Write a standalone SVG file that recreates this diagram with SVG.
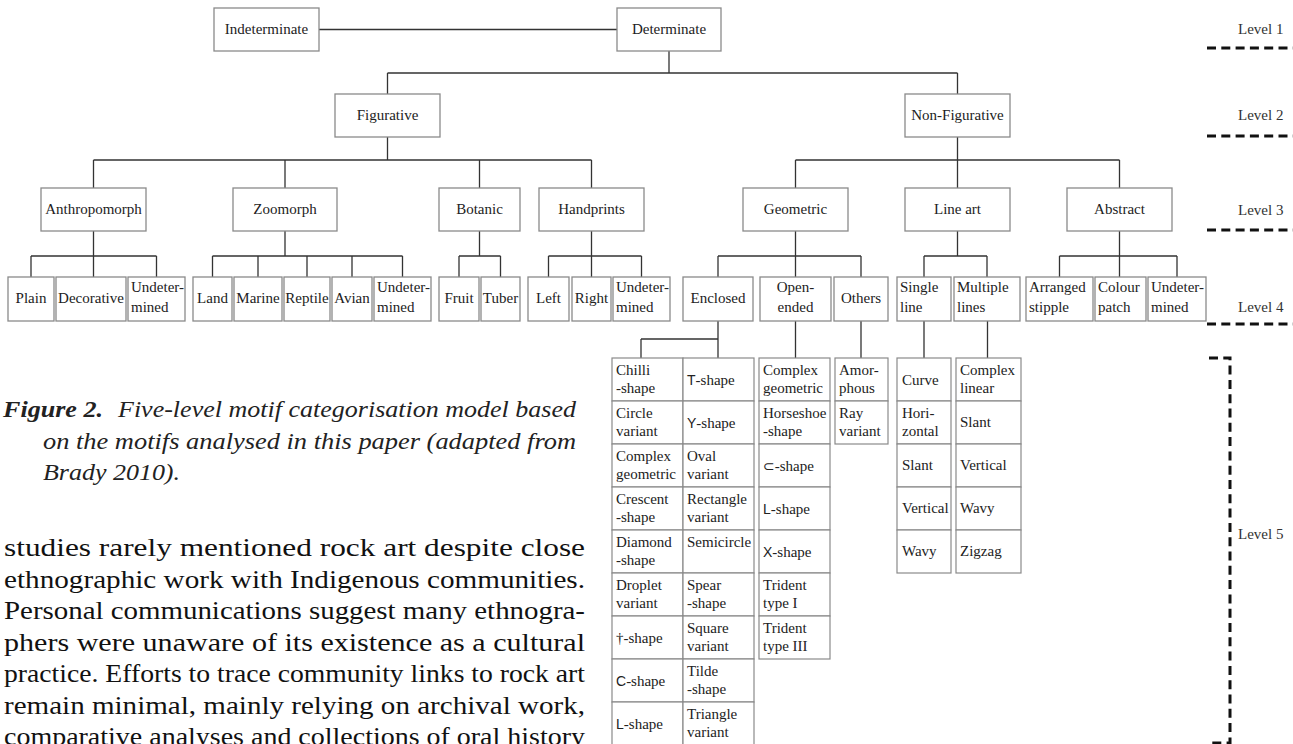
<svg xmlns="http://www.w3.org/2000/svg" width="1293" height="744" viewBox="0 0 1293 744">
<style>
.box{fill:#fff;stroke:#8a8a8a;stroke-width:1.3}
.cell{fill:#fff;stroke:#8a8a8a;stroke-width:1.2}
.t{font-family:"Liberation Serif",serif;font-size:15px;fill:#222}
.c{text-anchor:middle}
.s{font-family:"Liberation Sans","DejaVu Sans",sans-serif;font-size:14px}
.conn{stroke:#333;stroke-width:1.3;fill:none}
.dash{stroke:#111;stroke-width:3;stroke-dasharray:9 5.3;fill:none}
.lvl{font-family:"Liberation Serif",serif;font-size:15px;fill:#333}
.cap{font-family:"Liberation Serif",serif;font-size:23px;font-style:italic;fill:#222}
.body{font-family:"Liberation Serif",serif;font-size:25px;fill:#111}
</style>

<g id="connectors" class="conn">
<path d="M319,29.5 H617"/>
<path d="M669,51 V73 M387.5,73 H957.5 M387.5,73 V94 M957.5,73 V94"/>
<path d="M387.5,137 V160 M93.5,160 H591.5 M93.5,160 V188 M285,160 V188 M479.5,160 V188 M591.5,160 V188"/>
<path d="M957.5,137 V160 M795.5,160 H1119.5 M795.5,160 V188 M957.5,160 V188 M1119.5,160 V188"/>
<path d="M93.5,231 V277 M31,256 H156.5 M31,256 V277 M156.5,256 V277"/>
<path d="M285,231 V256 M212.5,256 H402.5 M212.5,256 V277 M258,256 V277 M307,256 V277 M352,256 V277 M402.5,256 V277"/>
<path d="M479.5,231 V256 M459,256 H500.5 M459,256 V277 M500.5,256 V277"/>
<path d="M591.5,231 V277 M548.5,256 H641.5 M548.5,256 V277 M641.5,256 V277"/>
<path d="M795.5,231 V277 M718,256 H861 M718,256 V277 M861,256 V277"/>
<path d="M957.5,231 V256 M924,256 H987 M924,256 V277 M987,256 V277"/>
<path d="M1119.5,231 V277 M1059.5,256 H1177 M1059.5,256 V277 M1177,256 V277"/>
<path d="M718,321 V358 M641,339 H718 M641,339 V358"/>
<path d="M795.5,321 V358 M861,321 V358 M924,321 V358 M987.5,321 V358"/>
</g>

<!-- Level 1 -->
<g id="n-indeterminate"><rect class="box" x="214" y="8" width="105" height="43"/><text class="t c" x="266.5" y="34">Indeterminate</text></g>
<g id="n-determinate"><rect class="box" x="617" y="8" width="104" height="43"/><text class="t c" x="669" y="34">Determinate</text></g>

<!-- Level 2 -->
<g id="n-figurative"><rect class="box" x="335" y="94" width="105" height="43"/><text class="t c" x="387.5" y="120">Figurative</text></g>
<g id="n-nonfigurative"><rect class="box" x="905" y="94" width="105" height="43"/><text class="t c" x="957.5" y="120">Non-Figurative</text></g>

<!-- Level 3 -->
<g id="n-anthropomorph"><rect class="box" x="41" y="188" width="105" height="43"/><text class="t c" x="93.5" y="214">Anthropomorph</text></g>
<g id="n-zoomorph"><rect class="box" x="233" y="188" width="104" height="43"/><text class="t c" x="285" y="214">Zoomorph</text></g>
<g id="n-botanic"><rect class="box" x="439" y="188" width="81" height="43"/><text class="t c" x="479.5" y="214">Botanic</text></g>
<g id="n-handprints"><rect class="box" x="539" y="188" width="105" height="43"/><text class="t c" x="591.5" y="214">Handprints</text></g>
<g id="n-geometric"><rect class="box" x="743" y="188" width="105" height="43"/><text class="t c" x="795.5" y="214">Geometric</text></g>
<g id="n-lineart"><rect class="box" x="905" y="188" width="105" height="43"/><text class="t c" x="957.5" y="214">Line art</text></g>
<g id="n-abstract"><rect class="box" x="1067" y="188" width="105" height="43"/><text class="t c" x="1119.5" y="214">Abstract</text></g>

<!-- Level 4 -->
<g id="n-plain"><rect class="box" x="8" y="277" width="46" height="44"/><text class="t c" x="31" y="303">Plain</text></g>
<g id="n-decorative"><rect class="box" x="56" y="277" width="70" height="44"/><text class="t c" x="91" y="303">Decorative</text></g>
<g id="n-anthro-undet"><rect class="box" x="128" y="277" width="57" height="44"/><text class="t" x="131" y="292">Undeter-</text><text class="t" x="131" y="312">mined</text></g>
<g id="n-land"><rect class="box" x="193" y="277" width="39" height="44"/><text class="t c" x="212.5" y="303">Land</text></g>
<g id="n-marine"><rect class="box" x="234" y="277" width="48" height="44"/><text class="t c" x="258" y="303">Marine</text></g>
<g id="n-reptile"><rect class="box" x="284" y="277" width="46" height="44"/><text class="t c" x="307" y="303">Reptile</text></g>
<g id="n-avian"><rect class="box" x="332" y="277" width="40" height="44"/><text class="t c" x="352" y="303">Avian</text></g>
<g id="n-zoo-undet"><rect class="box" x="374" y="277" width="57" height="44"/><text class="t" x="377" y="292">Undeter-</text><text class="t" x="377" y="312">mined</text></g>
<g id="n-fruit"><rect class="box" x="439" y="277" width="40" height="44"/><text class="t c" x="459" y="303">Fruit</text></g>
<g id="n-tuber"><rect class="box" x="481" y="277" width="39" height="44"/><text class="t c" x="500.5" y="303">Tuber</text></g>
<g id="n-left"><rect class="box" x="528" y="277" width="41" height="44"/><text class="t c" x="548.5" y="303">Left</text></g>
<g id="n-right"><rect class="box" x="572" y="277" width="39" height="44"/><text class="t c" x="591.5" y="303">Right</text></g>
<g id="n-hand-undet"><rect class="box" x="613" y="277" width="57" height="44"/><text class="t" x="616" y="292">Undeter-</text><text class="t" x="616" y="312">mined</text></g>
<g id="n-enclosed"><rect class="box" x="683" y="277" width="70" height="44"/><text class="t c" x="718" y="303">Enclosed</text></g>
<g id="n-openended"><rect class="box" x="760" y="277" width="71" height="44"/><text class="t c" x="795.5" y="292">Open-</text><text class="t c" x="795.5" y="312">ended</text></g>
<g id="n-others"><rect class="box" x="834" y="277" width="54" height="44"/><text class="t c" x="861" y="303">Others</text></g>
<g id="n-singleline"><rect class="box" x="897" y="277" width="54" height="44"/><text class="t" x="900" y="292">Single</text><text class="t" x="900" y="312">line</text></g>
<g id="n-multiplelines"><rect class="box" x="954" y="277" width="66" height="44"/><text class="t" x="957" y="292">Multiple</text><text class="t" x="957" y="312">lines</text></g>
<g id="n-arranged"><rect class="box" x="1026" y="277" width="67" height="44"/><text class="t" x="1029" y="292">Arranged</text><text class="t" x="1029" y="312">stipple</text></g>
<g id="n-colour"><rect class="box" x="1095" y="277" width="51" height="44"/><text class="t" x="1098" y="292">Colour</text><text class="t" x="1098" y="312">patch</text></g>
<g id="n-abs-undet"><rect class="box" x="1148" y="277" width="58" height="44"/><text class="t" x="1151" y="292">Undeter-</text><text class="t" x="1151" y="312">mined</text></g>

<!-- Level 5: Enclosed -->
<g id="n-chilli"><rect class="cell" x="612" y="358" width="71" height="43"/><text class="t" x="616" y="375">Chilli</text><text class="t" x="616" y="393">-shape</text></g>
<g id="n-tshape"><rect class="cell" x="683" y="358" width="71" height="43"/><text class="t" x="687" y="385"><tspan class="s">T</tspan>-shape</text></g>
<g id="n-circle"><rect class="cell" x="612" y="401" width="71" height="43"/><text class="t" x="616" y="418">Circle</text><text class="t" x="616" y="436">variant</text></g>
<g id="n-yshape"><rect class="cell" x="683" y="401" width="71" height="43"/><text class="t" x="687" y="428"><tspan class="s">Y</tspan>-shape</text></g>
<g id="n-complexgeo1"><rect class="cell" x="612" y="444" width="71" height="43"/><text class="t" x="616" y="461">Complex</text><text class="t" x="616" y="479">geometric</text></g>
<g id="n-oval"><rect class="cell" x="683" y="444" width="71" height="43"/><text class="t" x="687" y="461">Oval</text><text class="t" x="687" y="479">variant</text></g>
<g id="n-crescent"><rect class="cell" x="612" y="487" width="71" height="43"/><text class="t" x="616" y="504">Crescent</text><text class="t" x="616" y="522">-shape</text></g>
<g id="n-rectangle"><rect class="cell" x="683" y="487" width="71" height="43"/><text class="t" x="687" y="504">Rectangle</text><text class="t" x="687" y="522">variant</text></g>
<g id="n-diamond"><rect class="cell" x="612" y="530" width="71" height="43"/><text class="t" x="616" y="547">Diamond</text><text class="t" x="616" y="565">-shape</text></g>
<g id="n-semicircle"><rect class="cell" x="683" y="530" width="71" height="43"/><text class="t" x="687" y="547">Semicircle</text></g>
<g id="n-droplet"><rect class="cell" x="612" y="573" width="71" height="43"/><text class="t" x="616" y="590">Droplet</text><text class="t" x="616" y="608">variant</text></g>
<g id="n-spear"><rect class="cell" x="683" y="573" width="71" height="43"/><text class="t" x="687" y="590">Spear</text><text class="t" x="687" y="608">-shape</text></g>
<g id="n-dagger"><rect class="cell" x="612" y="616" width="71" height="43"/><text class="t" x="616" y="643">†-shape</text></g>
<g id="n-square"><rect class="cell" x="683" y="616" width="71" height="43"/><text class="t" x="687" y="633">Square</text><text class="t" x="687" y="651">variant</text></g>
<g id="n-cshape"><rect class="cell" x="612" y="659" width="71" height="43"/><text class="t" x="616" y="686"><tspan class="s">C</tspan>-shape</text></g>
<g id="n-tilde"><rect class="cell" x="683" y="659" width="71" height="43"/><text class="t" x="687" y="676">Tilde</text><text class="t" x="687" y="694">-shape</text></g>
<g id="n-lshape1"><rect class="cell" x="612" y="702" width="71" height="43"/><text class="t" x="616" y="729"><tspan class="s">L</tspan>-shape</text></g>
<g id="n-triangle"><rect class="cell" x="683" y="702" width="71" height="43"/><text class="t" x="687" y="719">Triangle</text><text class="t" x="687" y="737">variant</text></g>

<!-- Level 5: Open-ended -->
<g id="n-complexgeo2"><rect class="cell" x="759" y="358" width="71" height="43"/><text class="t" x="763" y="375">Complex</text><text class="t" x="763" y="393">geometric</text></g>
<g id="n-horseshoe"><rect class="cell" x="759" y="401" width="71" height="43"/><text class="t" x="763" y="418">Horseshoe</text><text class="t" x="763" y="436">-shape</text></g>
<g id="n-subset"><rect class="cell" x="759" y="444" width="71" height="43"/><text class="t" x="763" y="471"><tspan class="s">⊂</tspan>-shape</text></g>
<g id="n-lshape2"><rect class="cell" x="759" y="487" width="71" height="43"/><text class="t" x="763" y="514"><tspan class="s">L</tspan>-shape</text></g>
<g id="n-xshape"><rect class="cell" x="759" y="530" width="71" height="43"/><text class="t" x="763" y="557"><tspan class="s">X</tspan>-shape</text></g>
<g id="n-trident1"><rect class="cell" x="759" y="573" width="71" height="43"/><text class="t" x="763" y="590">Trident</text><text class="t" x="763" y="608">type I</text></g>
<g id="n-trident3"><rect class="cell" x="759" y="616" width="71" height="43"/><text class="t" x="763" y="633">Trident</text><text class="t" x="763" y="651">type III</text></g>

<!-- Level 5: Others -->
<g id="n-amorphous"><rect class="cell" x="835" y="358" width="53" height="43"/><text class="t" x="839" y="375">Amor-</text><text class="t" x="839" y="393">phous</text></g>
<g id="n-ray"><rect class="cell" x="835" y="401" width="53" height="43"/><text class="t" x="839" y="418">Ray</text><text class="t" x="839" y="436">variant</text></g>

<!-- Level 5: Single line -->
<g id="n-curve"><rect class="cell" x="897" y="358" width="54" height="43"/><text class="t" x="902" y="385">Curve</text></g>
<g id="n-horizontal"><rect class="cell" x="897" y="401" width="54" height="43"/><text class="t" x="902" y="418">Hori-</text><text class="t" x="902" y="436">zontal</text></g>
<g id="n-slant1"><rect class="cell" x="897" y="444" width="54" height="43"/><text class="t" x="902" y="470">Slant</text></g>
<g id="n-vertical1"><rect class="cell" x="897" y="487" width="54" height="43"/><text class="t" x="902" y="513">Vertical</text></g>
<g id="n-wavy1"><rect class="cell" x="897" y="530" width="54" height="43"/><text class="t" x="902" y="556">Wavy</text></g>

<!-- Level 5: Multiple lines -->
<g id="n-complexlinear"><rect class="cell" x="956" y="358" width="65" height="43"/><text class="t" x="960" y="375">Complex</text><text class="t" x="960" y="393">linear</text></g>
<g id="n-slant2"><rect class="cell" x="956" y="401" width="65" height="43"/><text class="t" x="960" y="427">Slant</text></g>
<g id="n-vertical2"><rect class="cell" x="956" y="444" width="65" height="43"/><text class="t" x="960" y="470">Vertical</text></g>
<g id="n-wavy2"><rect class="cell" x="956" y="487" width="65" height="43"/><text class="t" x="960" y="513">Wavy</text></g>
<g id="n-zigzag"><rect class="cell" x="956" y="530" width="65" height="43"/><text class="t" x="960" y="556">Zigzag</text></g>

<!-- Level markers -->
<g id="levels">
<text class="lvl" x="1238" y="34">Level 1</text>
<path class="dash" d="M1207,48 H1293"/>
<text class="lvl" x="1238" y="120">Level 2</text>
<path class="dash" d="M1207,136 H1293"/>
<text class="lvl" x="1238" y="215">Level 3</text>
<path class="dash" d="M1207,230 H1293"/>
<text class="lvl" x="1238" y="312">Level 4</text>
<path class="dash" d="M1207,324 H1293"/>
<path class="dash" d="M1209,358 H1230 V743 H1209"/>
<text class="lvl" x="1238" y="539">Level 5</text>
</g>

<!-- Caption -->
<g id="caption">
<text class="cap" x="3" y="417" font-weight="bold" textLength="100" lengthAdjust="spacingAndGlyphs">Figure 2.</text>
<text class="cap" x="118" y="417" textLength="458" lengthAdjust="spacingAndGlyphs">Five-level motif categorisation model based</text>
<text class="cap" x="43" y="448.5" textLength="533" lengthAdjust="spacingAndGlyphs">on the motifs analysed in this paper (adapted from</text>
<text class="cap" x="43" y="480" textLength="137" lengthAdjust="spacingAndGlyphs">Brady 2010).</text>
</g>

<!-- Body text -->
<g id="bodytext">
<text class="body" x="4" y="556" textLength="581" lengthAdjust="spacingAndGlyphs">studies rarely mentioned rock art despite close</text>
<text class="body" x="4" y="587.5" textLength="581" lengthAdjust="spacingAndGlyphs">ethnographic work with Indigenous communities.</text>
<text class="body" x="4" y="619" textLength="581" lengthAdjust="spacingAndGlyphs">Personal communications suggest many ethnogra-</text>
<text class="body" x="4" y="650.5" textLength="581" lengthAdjust="spacingAndGlyphs">phers were unaware of its existence as a cultural</text>
<text class="body" x="4" y="682" textLength="581" lengthAdjust="spacingAndGlyphs">practice. Efforts to trace community links to rock art</text>
<text class="body" x="4" y="713.5" textLength="581" lengthAdjust="spacingAndGlyphs">remain minimal, mainly relying on archival work,</text>
<text class="body" x="4" y="745" textLength="581" lengthAdjust="spacingAndGlyphs">comparative analyses and collections of oral history</text>
</g>
</svg>
